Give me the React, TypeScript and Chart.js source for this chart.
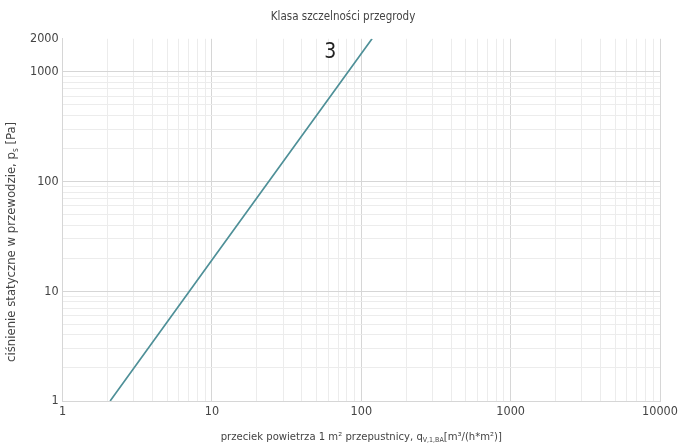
import React, { useEffect, useRef } from "react";
import { Chart, registerables } from "chart.js";

Chart.register(...registerables);

const seriesX = [2.08, 10, 118];
const seriesY = [1, 19.3, 2000];
const classLabel = "3";
const classLabelX = 62;
const classLabelY = 1500;
const xTickValues = [1, 2, 3, 4, 5, 6, 7, 8, 9, 10, 20, 30, 40, 50, 60, 70, 80, 90, 100, 200, 300, 400, 500, 600, 700, 800, 900, 1000, 2000, 3000, 4000, 5000, 6000, 7000, 8000, 9000, 10000];
const xLabelValues = [1, 10, 100, 1000, 10000];
const yTickValues = [1, 2, 3, 4, 5, 6, 7, 8, 9, 10, 20, 30, 40, 50, 60, 70, 80, 90, 100, 200, 300, 400, 500, 600, 700, 800, 900, 1000, 2000];
const yLabelValues = [1, 10, 100, 1000, 2000];
const chartTitle = "Klasa szczelności przegrody";
const yTitleMain = "ciśnienie statyczne w przewodzie, p";
const yTitleSub = "s";
const yTitleEnd = " [Pa]";
const xTitleMain = "przeciek powietrza 1 m² przepustnicy, q";
const xTitleSub = "V,1,BA";
const xTitleEnd = "[m³/(h*m²)]";

const FONT = "'DejaVu Sans Condensed', 'Liberation Sans Narrow', Roboto, sans-serif";

function drawRuns(ctx: CanvasRenderingContext2D, runs: { t: string; sub?: boolean }[], cx: number, cy: number, size: number) {
  const main = `${size}px ${FONT}`;
  const sub = `${Math.round(size * 0.65)}px ${FONT}`;
  let total = 0;
  for (const r of runs) {
    ctx.font = r.sub ? sub : main;
    total += ctx.measureText(r.t).width;
  }
  let x = cx - total / 2;
  for (const r of runs) {
    ctx.font = r.sub ? sub : main;
    ctx.fillText(r.t, x, r.sub ? cy + size * 0.28 : cy);
    x += ctx.measureText(r.t).width;
  }
}

export default function App() {
  const ref = useRef<HTMLCanvasElement | null>(null);
  useEffect(() => {
    document.body.style.margin = "0";
    const canvas = ref.current!;
    const overlay = {
      id: "overlay",
      afterDraw(chart: any) {
        const ctx = chart.ctx as CanvasRenderingContext2D;
        const { chartArea, scales } = chart;
        ctx.save();
        ctx.fillStyle = "#222";
        ctx.font = `300 21px ${FONT}`;
        ctx.textAlign = "center";
        ctx.textBaseline = "middle";
        ctx.fillText(classLabel, scales.x.getPixelForValue(classLabelX), scales.y.getPixelForValue(classLabelY));
        ctx.fillStyle = "#444";
        ctx.textAlign = "left";
        ctx.textBaseline = "middle";
        drawRuns(ctx, [{ t: xTitleMain }, { t: xTitleSub, sub: true }, { t: xTitleEnd }], (chartArea.left + chartArea.right) / 2, 437, 11.2);
        ctx.translate(12, (chartArea.top + chartArea.bottom) / 2 + 22);
        ctx.rotate(-Math.PI / 2);
        drawRuns(ctx, [{ t: yTitleMain }, { t: yTitleSub, sub: true }, { t: yTitleEnd }], 0, 0, 13);
        ctx.restore();
      },
    };
    const isLabel = (arr: number[], v: number) => arr.some((a) => Math.abs(a - v) < 1e-9);
    const chart = new Chart(canvas, {
      type: "line",
      data: {
        datasets: [
          {
            label: classLabel,
            data: seriesX.map((x, i) => ({ x, y: seriesY[i] })),
            borderColor: "#4f9098",
            borderWidth: 1.7,
            pointRadius: 0,
            tension: 0,
          },
        ],
      },
      options: {
        animation: false,
        responsive: false,
        layout: { padding: { left: 26, right: 24, top: 0, bottom: 21 } },
        plugins: {
          legend: { display: false },
          tooltip: { enabled: false },
          title: {
            display: true,
            text: chartTitle,
            color: "#444",
            font: { family: FONT, size: 11.5, weight: "normal" },
            padding: { top: 10, bottom: 15 },
          },
        },
        scales: {
          x: {
            type: "logarithmic",
            min: 1,
            max: 10000,
            afterBuildTicks: (s: any) => {
              s.ticks = xTickValues.map((v) => ({ value: v }));
            },
            ticks: {
              autoSkip: false,
              maxRotation: 0,
              color: "#444",
              font: { family: FONT, size: 12.5 },
              callback: (v: any) => (isLabel(xLabelValues, Number(v)) ? String(v) : ""),
            },
            grid: {
              color: (c: any) => (isLabel(xLabelValues, c.tick?.value) ? "#d6d6d6" : "#ececec"),
              drawTicks: false,
            },
            border: { color: "#d6d6d6" },
          },
          y: {
            type: "logarithmic",
            min: 1,
            max: 2000,
            afterBuildTicks: (s: any) => {
              s.ticks = yTickValues.map((v) => ({ value: v }));
            },
            ticks: {
              autoSkip: false,
              color: "#444",
              padding: 4,
              font: { family: FONT, size: 12.5 },
              callback: (v: any) => (isLabel(yLabelValues, Number(v)) ? String(v) : ""),
            },
            grid: {
              color: (c: any) =>
                c.tick?.value === 2000 ? "rgba(0,0,0,0)" : isLabel(yLabelValues, c.tick?.value) ? "#d6d6d6" : "#ececec",
              drawTicks: false,
            },
            border: { color: "#d6d6d6" },
          },
        },
      },
      plugins: [overlay],
    } as any);
    return () => chart.destroy();
  }, []);
  return <canvas ref={ref} width={684} height={443} style={{ display: "block" }} />;
}
